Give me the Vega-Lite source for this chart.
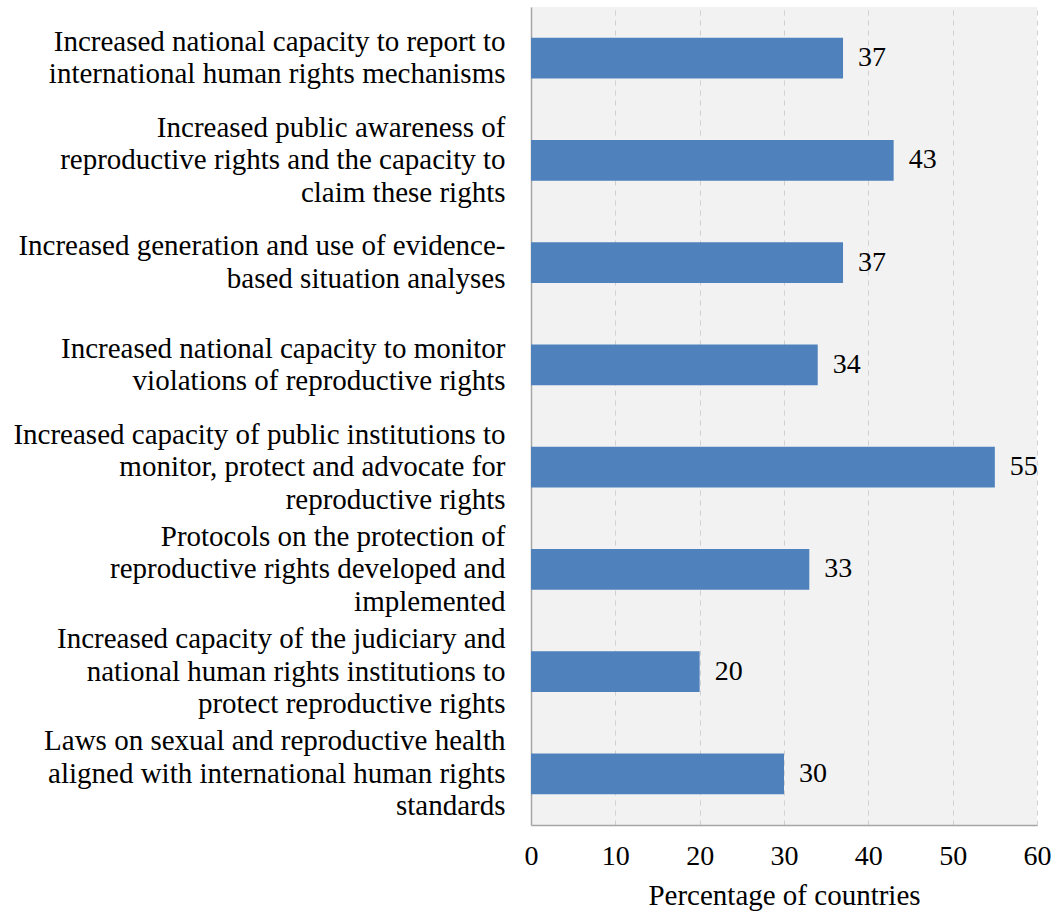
{
  "$schema": "https://vega.github.io/schema/vega-lite/v6.json",
  "autosize": {"type": "none"},
  "padding": {"left": 531, "top": 7, "right": 17, "bottom": 88},
  "width": 506,
  "height": 818,
  "background": "white",
  "config": {
    "font": "Liberation Serif",
    "view": {"fill": "#f2f2f2", "stroke": null}
  },
  "data": {
    "values": [
      {"label": "Increased national capacity to report to|international human rights mechanisms", "value": 37},
      {"label": "Increased public awareness of|reproductive rights and the capacity to|claim these rights", "value": 43},
      {"label": "Increased generation and use of evidence-|based situation analyses", "value": 37},
      {"label": "Increased national capacity to monitor|violations of reproductive rights", "value": 34},
      {"label": "Increased capacity of public institutions to|monitor, protect and advocate for|reproductive rights", "value": 55},
      {"label": "Protocols on the protection of|reproductive rights developed and|implemented", "value": 33},
      {"label": "Increased capacity of the judiciary and|national human rights institutions to|protect reproductive rights", "value": 20},
      {"label": "Laws on sexual and reproductive health|aligned with international human rights|standards", "value": 30}
    ]
  },
  "encoding": {
    "y": {
      "field": "label", "type": "nominal", "sort": null,
      "scale": {"paddingInner": 0.6, "paddingOuter": 0.3},
      "axis": {
        "title": null, "ticks": false, "labelPadding": 26, "domain": true, "domainColor": "#a6a6a6", "domainWidth": 1.5,
        "labelExpr": "split(datum.label, '|')", "labelFont": "Liberation Serif", "labelFontSize": 29, "labelColor": "#000000",
        "labelLimit": 600, "labelLineHeight": 32.5, "labelAlign": "right", "labelBaseline": "middle",
        "labelOffset": {"condition": {"test": "length(split(datum.label, '|')) == 3", "value": -32.5}, "value": -16.25}
      }
    },
    "x": {
      "field": "value", "type": "quantitative",
      "scale": {"domain": [0, 60], "nice": false},
      "axis": {
        "title": "Percentage of countries", "titleFont": "Liberation Serif", "titleFontSize": 29, "titleFontWeight": "normal", "titleColor": "#000000", "titlePadding": 11,
        "values": [0, 10, 20, 30, 40, 50, 60], "ticks": false, "labelPadding": 17, "labelFlush": false, "labelOverlap": false, "labelFont": "Liberation Serif", "labelFontSize": 28, "labelColor": "#000000",
        "domainColor": "#a6a6a6", "domainWidth": 1.5,
        "grid": true, "gridColor": "#d0d0d0", "gridDash": [5, 5], "gridWidth": 1
      }
    }
  },
  "layer": [
    {"mark": {"type": "bar", "color": "#4f81bd"}},
    {"mark": {"type": "text", "align": "left", "baseline": "middle", "dx": 15, "fontSize": 28, "font": "Liberation Serif", "color": "#000000"},
     "encoding": {"text": {"field": "value", "type": "quantitative"}}}
  ]
}
